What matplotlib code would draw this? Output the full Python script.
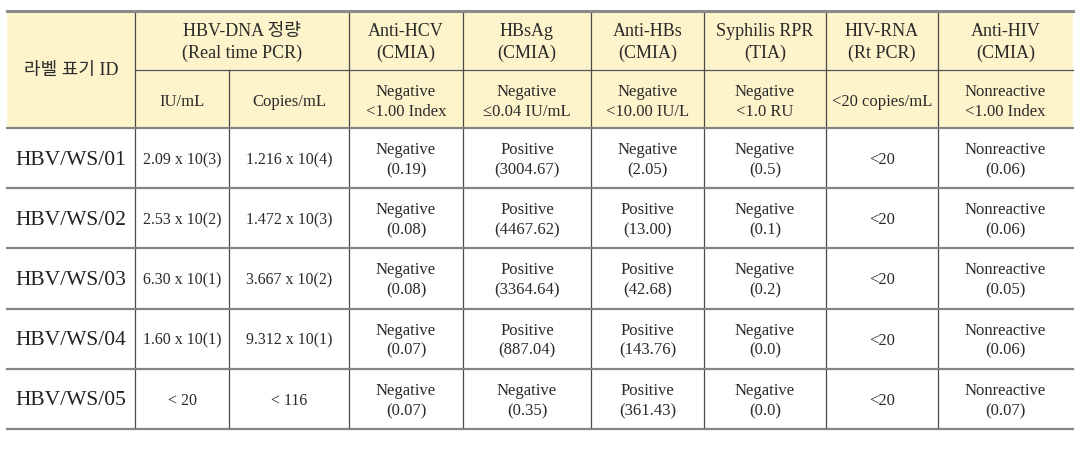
import matplotlib
matplotlib.use('Agg')
import matplotlib.pyplot as plt
from matplotlib.patches import Rectangle

plt.rcParams['font.family'] = ['Liberation Serif', 'Noto Sans CJK KR']

# ---- table content ----
ids = ['HBV/WS/01', 'HBV/WS/02', 'HBV/WS/03', 'HBV/WS/04', 'HBV/WS/05']
iu_ml = ['2.09 x 10(3)', '2.53 x 10(2)', '6.30 x 10(1)', '1.60 x 10(1)', '< 20']
copies_ml = ['1.216 x 10(4)', '1.472 x 10(3)', '3.667 x 10(2)', '9.312 x 10(1)', '< 116']
hcv_result = ['Negative', 'Negative', 'Negative', 'Negative', 'Negative']
hcv_value = ['0.19', '0.08', '0.08', '0.07', '0.07']
hbsag_result = ['Positive', 'Positive', 'Positive', 'Positive', 'Negative']
hbsag_value = ['3004.67', '4467.62', '3364.64', '887.04', '0.35']
antihbs_result = ['Negative', 'Positive', 'Positive', 'Positive', 'Positive']
antihbs_value = ['2.05', '13.00', '42.68', '143.76', '361.43']
rpr_result = ['Negative', 'Negative', 'Negative', 'Negative', 'Negative']
rpr_value = ['0.5', '0.1', '0.2', '0.0', '0.0']
hivrna = ['<20', '<20', '<20', '<20', '<20']
antihiv_result = ['Nonreactive'] * 5
antihiv_value = ['0.06', '0.06', '0.05', '0.06', '0.07']

top_headers = ['Anti-HCV\n(CMIA)', 'HBsAg\n(CMIA)', 'Anti-HBs\n(CMIA)',
               'Syphilis RPR\n(TIA)', 'HIV-RNA\n(Rt PCR)', 'Anti-HIV\n(CMIA)']
sub_headers = ['IU/mL', 'Copies/mL', 'Negative\n<1.00 Index', 'Negative\n≤0.04 IU/mL',
               'Negative\n<10.00 IU/L', 'Negative\n<1.0 RU', '<20 copies/mL',
               'Nonreactive\n<1.00 Index']

# ---- geometry (pixels) ----
col_x = [7, 135, 229, 349, 463, 591, 704, 826, 938, 1073]
y_top, y_mid, y_head = 12, 71, 129
row_h = 60.2
n_rows = len(ids)
y_bot = y_head + row_h * n_rows

fig = plt.figure(figsize=(10.88, 4.52), dpi=100)
ax = fig.add_axes([0, 0, 1, 1])
ax.set_xlim(0, 1088)
ax.set_ylim(452, 0)
ax.axis('off')

# header fill
ax.add_patch(Rectangle((col_x[0], y_top), col_x[-1] - col_x[0], y_head - y_top,
                       facecolor='#FEF4CB', edgecolor='none', zorder=0))

txt = '#2a2a2a'
def cx(i):
    return (col_x[i] + col_x[i + 1]) / 2

# header texts
ax.text(cx(0), (y_top + y_head) / 2, '라벨 표기 ID', ha='center', va='center',
        fontsize=13, color=txt)
ax.text((col_x[1] + col_x[3]) / 2, (y_top + y_mid) / 2 + 1, 'HBV-DNA 정량\n(Real time PCR)',
        ha='center', va='center', fontsize=13, color=txt, linespacing=1.3)
for k, h in enumerate(top_headers):
    ax.text(cx(k + 3), (y_top + y_mid) / 2 + 1, h, ha='center', va='center',
            fontsize=13, color=txt, linespacing=1.3)
for k, h in enumerate(sub_headers):
    ax.text(cx(k + 1), (y_mid + y_head) / 2 + 2, h, ha='center', va='center',
            fontsize=12, color=txt, linespacing=1.4)

# body
for r in range(n_rows):
    yc = y_head + row_h * (r + 0.5) + 1
    ax.text(col_x[0] + 8, yc, ids[r], ha='left', va='center', fontsize=15.5, color='#222')
    ax.text(cx(1), yc, iu_ml[r], ha='center', va='center', fontsize=11.5, color=txt)
    ax.text(cx(2), yc, copies_ml[r], ha='center', va='center', fontsize=11.5, color=txt)
    pairs = [(hcv_result, hcv_value), (hbsag_result, hbsag_value),
             (antihbs_result, antihbs_value), (rpr_result, rpr_value)]
    for k, (res, val) in enumerate(pairs):
        ax.text(cx(k + 3), yc, f'{res[r]}\n({val[r]})', ha='center', va='center',
                fontsize=12, color=txt, linespacing=1.35)
    ax.text(cx(7), yc, hivrna[r], ha='center', va='center', fontsize=12, color=txt)
    ax.text(cx(8), yc, f'{antihiv_result[r]}\n({antihiv_value[r]})', ha='center',
            va='center', fontsize=12, color=txt, linespacing=1.35)

# lines
ax.plot([col_x[0], col_x[-1]], [y_top, y_top], color='#8a8a8a', lw=2.2, zorder=3)
ax.plot([col_x[1], col_x[-1]], [y_mid, y_mid], color='#555', lw=0.9, zorder=3)
for r in range(n_rows + 1):
    yy = y_head + row_h * r
    ax.plot([col_x[0], col_x[-1]], [yy, yy], color='#858585', lw=1.6, zorder=3)
for i, xx in enumerate(col_x[1:-1], start=1):
    y0 = y_mid if i == 2 else y_top
    ax.plot([xx, xx], [y0, y_bot], color='#4a4a4a', lw=0.9, zorder=2)

fig.savefig('out.png', dpi=100, facecolor='white')
